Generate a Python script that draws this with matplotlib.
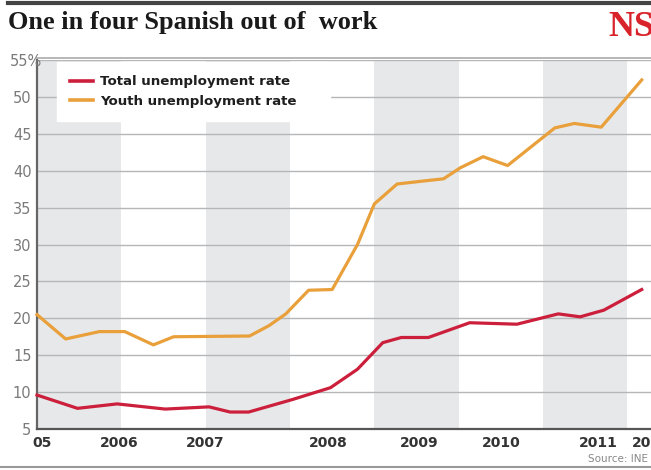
import matplotlib
matplotlib.use("Agg")
import matplotlib.pyplot as plt
from matplotlib.lines import Line2D

# ---- data ----
youth_x = [2005.00, 2005.34, 2005.74, 2006.04, 2006.38, 2006.62, 2007.52, 2007.75,
           2007.95, 2008.22, 2008.50, 2008.80, 2009.00, 2009.27, 2009.58, 2009.82,
           2010.02, 2010.29, 2010.58, 2011.14, 2011.37, 2011.69, 2012.17]
youth_y = [20.5, 17.2, 18.2, 18.2, 16.4, 17.5, 17.6, 19.0,
           20.6, 23.8, 23.9, 30.0, 35.5, 38.2, 38.6, 38.9,
           40.4, 41.9, 40.7, 45.8, 46.4, 45.9, 52.3]
total_x = [2005.00, 2005.48, 2005.95, 2006.52, 2007.04, 2007.29, 2007.51, 2008.03,
           2008.48, 2008.80, 2009.10, 2009.32, 2009.64, 2010.13, 2010.69, 2011.18,
           2011.44, 2011.72, 2012.17]
total_y = [9.6, 7.8, 8.4, 7.7, 8.0, 7.3, 7.3, 9.0,
           10.6, 13.1, 16.7, 17.4, 17.4, 19.4, 19.2, 20.6,
           20.2, 21.1, 23.9]
series_labels = ["Total unemployment rate", "Youth unemployment rate"]
y_ticks = [5, 10, 15, 20, 25, 30, 35, 40, 45, 50]
x_tick_pos = [2005.06, 2005.97, 2007.0, 2008.45, 2009.53, 2010.5, 2011.65, 2012.28]
x_tick_labels = ["05", "2006", "2007", "2008", "2009", "2010", "2011", "2012"]
shaded_years = [2005, 2007, 2009, 2011]

RED = "#cc1f3c"
ORANGE = "#e9a03b"
BAND = "#e6e8ea"
W, H = 651, 470

fig = plt.figure(figsize=(W / 100, H / 100), dpi=100)
fig.patch.set_facecolor("white")

ax = fig.add_axes([37 / W, (H - 429) / H, (W - 37) / W, (429 - 60) / H])
ax.set_xlim(2005.0, 2012.17)
ax.set_ylim(5, 55)
ax.set_facecolor("white")

for yr in shaded_years:
    ax.axvspan(yr, yr + 1, color=BAND, lw=0, zorder=0)

for yv in y_ticks[1:] + [55]:
    ax.axhline(yv, color="#b4b6b8", lw=1.0, zorder=1)

ax.plot(youth_x, youth_y, color=ORANGE, lw=2.3, solid_joinstyle="round", zorder=3, clip_on=False)
ax.plot(total_x, total_y, color=RED, lw=2.3, solid_joinstyle="round", zorder=3, clip_on=False)

for s in ["top", "right"]:
    ax.spines[s].set_visible(False)
ax.spines["left"].set_color("#666666")
ax.spines["left"].set_linewidth(1.6)
ax.spines["bottom"].set_color("#555555")
ax.spines["bottom"].set_linewidth(1.6)

narrow = ["Liberation Sans Narrow", "DejaVu Sans"]
ax.set_yticks(y_ticks)
ax.set_yticklabels([str(v) for v in y_ticks], family=narrow, fontsize=10.5, color="#7a7a7a")
ax.tick_params(axis="y", length=0, pad=4)
ax.set_xticks(x_tick_pos)
ax.set_xticklabels(x_tick_labels, family=narrow, fontsize=10, fontweight="bold", color="#333333")
ax.tick_params(axis="x", length=0, pad=5)

fig.text(10 / W, 1 - 62 / H, "55%", family=narrow, fontsize=10.5, color="#7a7a7a",
         ha="left", va="center")

# legend
handles = [Line2D([0], [0], color=RED, lw=2.6), Line2D([0], [0], color=ORANGE, lw=2.6)]
leg = ax.legend(handles, series_labels, loc="upper left",
                bbox_to_anchor=(20 / 614, 0.0, 273 / 614, 0.995), mode="expand",
                frameon=True, fancybox=False, framealpha=1, edgecolor="white",
                prop={"family": narrow, "weight": "bold", "size": 9.6},
                handlelength=1.7, handletextpad=0.5, labelspacing=0.5,
                borderpad=1.0, borderaxespad=0.0)
for t in leg.get_texts():
    t.set_color("#1e1e1e")
leg.set_zorder(5)

# title and decorations
fig.text(8 / W, 1 - 22 / H, "One in four Spanish out of  work", family="Liberation Serif",
         fontsize=19, fontweight="bold", color="#1a1a1a", ha="left", va="center")
fig.text(608 / W, 1 - 27 / H, "NS", family="Liberation Serif", fontsize=26,
         fontweight="bold", color="#d8232a", ha="left", va="center")
fig.add_artist(Line2D([8 / W, 1], [1 - 3 / H, 1 - 3 / H], color="#444444", lw=3))
fig.add_artist(Line2D([37 / W, 1], [1 - 58 / H, 1 - 58 / H], color="#aaaaaa", lw=1.2))
fig.add_artist(Line2D([0, 1], [1 - 467 / H, 1 - 467 / H], color="#999999", lw=1.5))
fig.text(588 / W, 1 - 459 / H, "Source: INE", family=narrow, fontsize=7.5,
         color="#888888", ha="left", va="center")

fig.savefig("out.png", dpi=100)
